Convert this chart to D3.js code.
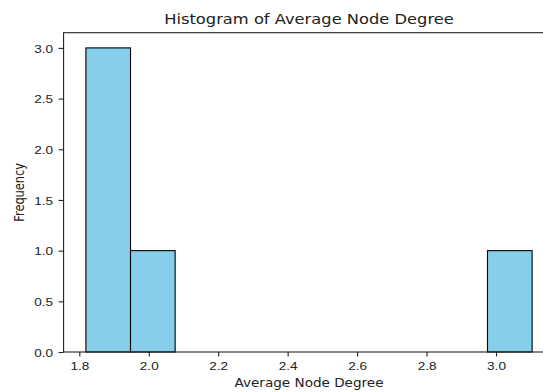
<!DOCTYPE html>
<html>
<head>
<meta charset="utf-8">
<script src="https://cdn.jsdelivr.net/npm/d3@7"></script>
<style>
  body { margin: 0; background: #fff; }
  svg { display: block; font-family: 'DejaVu Sans', sans-serif; }
  .tick text { fill: #222; font-size: 11.4px; }
  .tick line { stroke: #222; stroke-width: 1.1; }
</style>
</head>
<body>
<div id="chart"></div>
<script>
// average node degree of each graph
var avgDegrees = [1.819, 1.87, 1.91, 2.0, 3.104];
var nBins = 10;
var xTicks = [1.8, 2.0, 2.2, 2.4, 2.6, 2.8, 3.0];
var yTicks = [0, 0.5, 1.0, 1.5, 2.0, 2.5, 3.0];

var width = 543;
var height = 392;
// the picture is a bit stretched sideways, so is the text
var sx = 1.19;

var svg = d3.select('#chart').append('svg')
    .attr('width', width)
    .attr('height', height);

var xMin = d3.min(avgDegrees);
var xMax = d3.max(avgDegrees);
var binW = (xMax - xMin) / nBins;
var thresholds = d3.range(1, nBins).map(i => xMin + i * binW);

var bins = d3.bin()
    .domain([xMin, xMax])
    .thresholds(thresholds)(avgDegrees);

// matplotlib style 5% margin on x
var pad = (xMax - xMin) * 0.05;
var xScale = d3.scaleLinear()
    .domain([1.8, 3.0])
    .range([79.3, 496]);

var yMaxCount = d3.max(bins, b => b.length);
var yScale = d3.scaleLinear()
    .domain([0, yMaxCount * 1.05])
    .range([352, 32.7]);

var left = xScale(xMin - pad);
var right = xScale(xMax + pad);

// bars
svg.append('g')
    .selectAll('rect')
    .data(bins.filter(b => b.length > 0))
    .enter()
    .append('rect')
    .attr('x', d => xScale(d.x0))
    .attr('y', d => yScale(d.length))
    .attr('width', d => xScale(d.x1) - xScale(d.x0))
    .attr('height', d => yScale(0) - yScale(d.length))
    .attr('fill', '#87ceeb')
    .attr('stroke', '#000')
    .attr('stroke-width', 1.1);

// axes
var xAxis = d3.axisBottom(xScale)
    .tickValues(xTicks)
    .tickFormat(d3.format('.1f'))
    .tickSize(4.4);

var yAxis = d3.axisLeft(yScale)
    .tickValues(yTicks)
    .tickFormat(d3.format('.1f'))
    .tickSize(5);

svg.append('g')
    .attr('class', 'xAxis')
    .attr('transform', `translate(0,${yScale(0)})`)
    .call(xAxis)
    .call(g => g.select('.domain').remove())
    .call(g => g.selectAll('.tick text')
        .attr('y', 18)
        .attr('dy', 0)
        .attr('transform', `scale(${sx},1)`));

svg.append('g')
    .attr('class', 'yAxis')
    .attr('transform', `translate(${left},0)`)
    .call(yAxis)
    .call(g => g.select('.domain').remove())
    .call(g => g.selectAll('.tick text')
        .attr('x', -10.6 / sx)
        .attr('dy', '0.36em')
        .attr('transform', `scale(${sx},1)`));

// frame
svg.append('rect')
    .attr('x', left)
    .attr('y', yScale.range()[1])
    .attr('width', right - left)
    .attr('height', yScale.range()[0] - yScale.range()[1])
    .attr('fill', 'none')
    .attr('stroke', '#222')
    .attr('stroke-width', 1.1);

var mid = (left + right) / 2;

svg.append('text')
    .text('Histogram of Average Node Degree')
    .attr('transform', `translate(${mid},23.5)scale(${sx},1)`)
    .attr('text-anchor', 'middle')
    .attr('font-size', 13.7)
    .attr('fill', '#222');

svg.append('text')
    .text('Average Node Degree')
    .attr('transform', `translate(${mid},386.7)scale(${sx},1)`)
    .attr('text-anchor', 'middle')
    .attr('font-size', 11.4)
    .attr('fill', '#222');

svg.append('text')
    .text('Frequency')
    .attr('transform', `translate(23.5,${(yScale.range()[0] + yScale.range()[1]) / 2})scale(${sx},1)rotate(-90)`)
    .attr('text-anchor', 'middle')
    .attr('font-size', 11.4)
    .attr('fill', '#222');
</script>
</body>
</html>
